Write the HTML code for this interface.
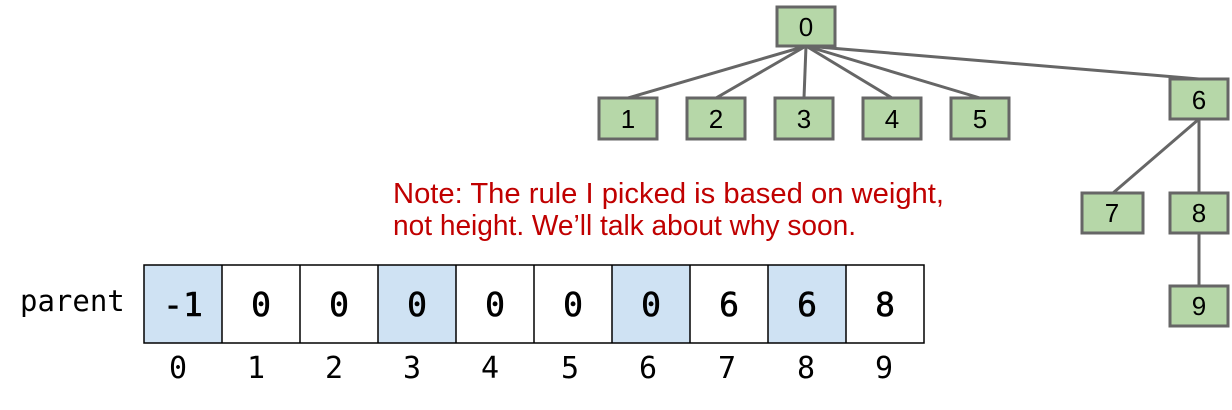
<!DOCTYPE html>
<html><head><style>
html,body{margin:0;padding:0;background:#fff;width:1232px;height:410px;overflow:hidden}
svg{display:block}
</style></head><body>
<svg width="1232" height="410" xmlns="http://www.w3.org/2000/svg">
<g stroke="#666" stroke-width="3" fill="none">
<line x1="806" y1="46" x2="628" y2="98"/>
<line x1="806" y1="46" x2="716" y2="98"/>
<line x1="806" y1="46" x2="804" y2="98"/>
<line x1="806" y1="46" x2="892" y2="98"/>
<line x1="806" y1="46" x2="980" y2="98"/>
<line x1="806" y1="46" x2="1199" y2="79"/>
<line x1="1199" y1="119" x2="1113" y2="193"/>
<line x1="1199" y1="119" x2="1199" y2="193"/>
<line x1="1199" y1="233" x2="1199" y2="286"/>
</g>
<g fill="#b6d7a8" stroke="#666" stroke-width="3">
<rect x="777" y="7" width="58" height="39"/>
<rect x="599" y="98" width="58" height="41"/>
<rect x="687" y="98" width="58" height="41"/>
<rect x="775" y="98" width="58" height="41"/>
<rect x="863" y="98" width="58" height="41"/>
<rect x="951" y="98" width="58" height="41"/>
<rect x="1170" y="79" width="58" height="40"/>
<rect x="1082" y="193" width="61" height="40"/>
<rect x="1170" y="193" width="58" height="40"/>
<rect x="1170" y="286" width="58" height="40"/>
</g>
<g font-family="'Liberation Sans', sans-serif" font-size="26" text-anchor="middle" fill="#000">
<text x="806" y="36">0</text>
<text x="628" y="128">1</text>
<text x="716" y="128">2</text>
<text x="804" y="128">3</text>
<text x="892" y="128">4</text>
<text x="980" y="128">5</text>
<text x="1199" y="109">6</text>
<text x="1112" y="222">7</text>
<text x="1199" y="222">8</text>
<text x="1199" y="315">9</text>
</g>
<g font-family="'Liberation Sans', sans-serif" font-size="29" fill="#c00000" textLength="551">
<text x="393" y="203" textLength="551" lengthAdjust="spacingAndGlyphs">Note: The rule I picked is based on weight,</text>
<text x="393" y="235" textLength="463" lengthAdjust="spacingAndGlyphs">not height. We’ll talk about why soon.</text>
</g>
<g fill="#cfe2f3">
<rect x="144" y="265" width="78" height="78"/>
<rect x="378" y="265" width="78" height="78"/>
<rect x="612" y="265" width="78" height="78"/>
<rect x="768" y="265" width="78" height="78"/>
</g>
<g stroke="#000" stroke-width="1.5" fill="none">
<rect x="144" y="265" width="780" height="78"/>
<line x1="222" y1="265" x2="222" y2="343"/>
<line x1="300" y1="265" x2="300" y2="343"/>
<line x1="378" y1="265" x2="378" y2="343"/>
<line x1="456" y1="265" x2="456" y2="343"/>
<line x1="534" y1="265" x2="534" y2="343"/>
<line x1="612" y1="265" x2="612" y2="343"/>
<line x1="690" y1="265" x2="690" y2="343"/>
<line x1="768" y1="265" x2="768" y2="343"/>
<line x1="846" y1="265" x2="846" y2="343"/>
</g>
<g font-family="'DejaVu Sans Mono', 'Liberation Mono', monospace" font-size="33" text-anchor="middle" fill="#000" stroke="#000" stroke-width="0.6">
<text x="183" y="316">-1</text><text x="261" y="316">0</text><text x="339" y="316">0</text>
<text x="417" y="316">0</text><text x="495" y="316">0</text><text x="573" y="316">0</text>
<text x="651" y="316">0</text><text x="729" y="316">6</text><text x="807" y="316">6</text>
<text x="885" y="316">8</text>
</g>
<g font-family="'DejaVu Sans Mono', 'Liberation Mono', monospace" font-size="30" text-anchor="middle" fill="#000">
<text x="178" y="378">0</text><text x="256" y="378">1</text><text x="334" y="378">2</text>
<text x="412" y="378">3</text><text x="490" y="378">4</text><text x="570" y="378">5</text>
<text x="648" y="378">6</text><text x="727" y="378">7</text><text x="806" y="378">8</text>
<text x="884" y="378">9</text>
</g>
<text x="20" y="311" font-family="'DejaVu Sans Mono', 'Liberation Mono', monospace" font-size="29" fill="#000">parent</text>
</svg>
</body></html>
